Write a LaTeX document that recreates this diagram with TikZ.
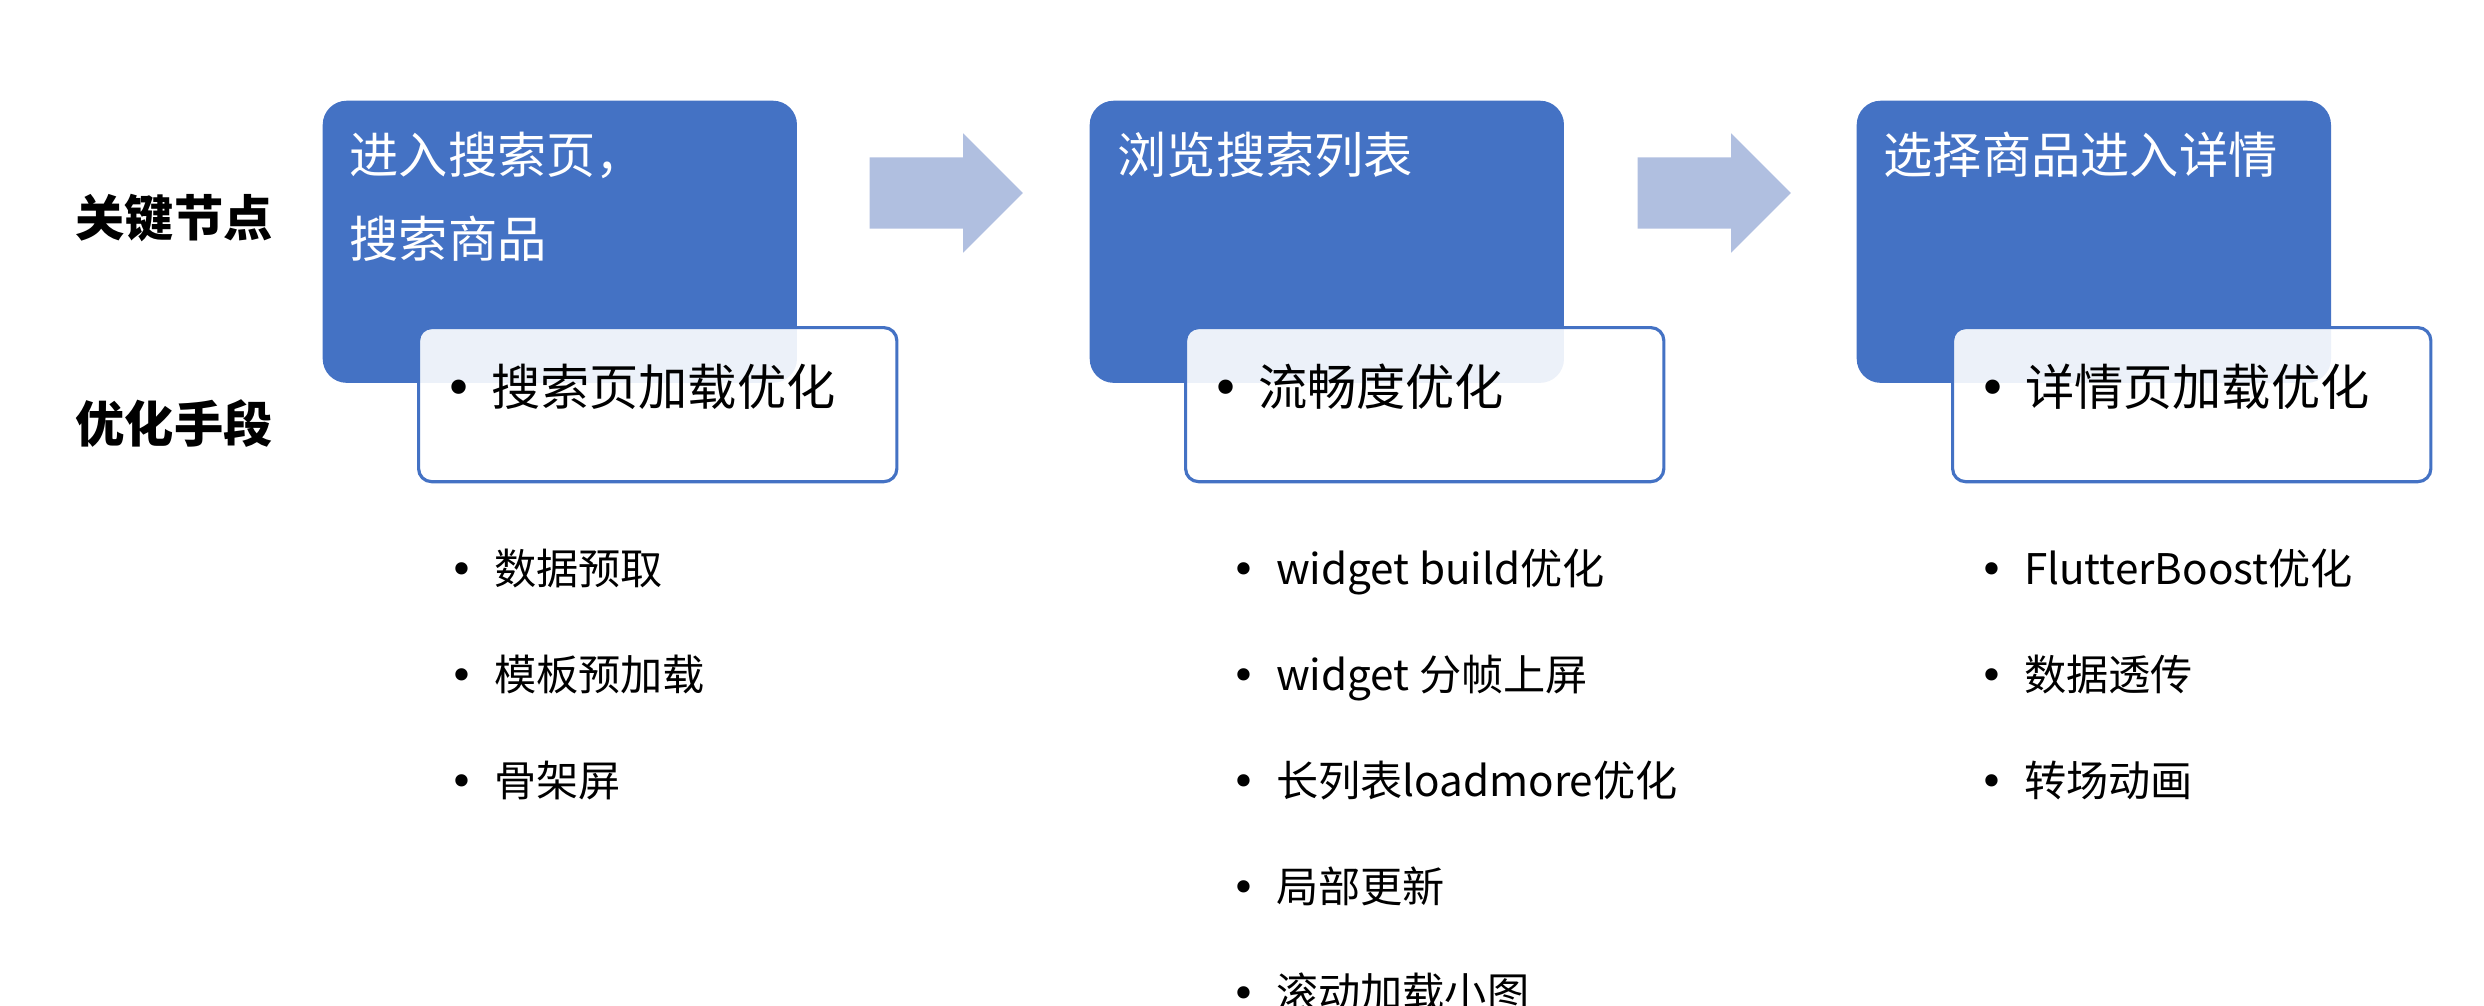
\documentclass[tikz,border=0pt]{standalone}
\usepackage{fontspec}
\setmainfont{Noto Sans CJK SC}
\newfontfamily\dotfont{DejaVu Sans}
\usetikzlibrary{positioning,shapes.arrows}

\definecolor{keyblue}{HTML}{4472C4}
\definecolor{flowblue}{HTML}{B0BFE0}

\tikzset{
  keybox/.style={fill=keyblue, rounded corners=0.24cm, minimum width=4.74cm,
    minimum height=2.82cm, inner sep=0, anchor=north west},
  keytext/.style={text=white, anchor=base west, inner sep=0,
    font=\fontsize{14}{16}\selectfont},
  waybox/.style={draw=keyblue, line width=0.9pt, fill=white, fill opacity=0.9,
    rounded corners=0.13cm, minimum width=4.78cm, minimum height=1.54cm,
    inner sep=0, anchor=north west},
  waytext/.style={anchor=base west, inner sep=0, font=\fontsize{14}{16}\selectfont},
  rowlabel/.style={anchor=base west, inner sep=0, font=\fontsize{14}{16}\selectfont\bfseries},
  listitem/.style={anchor=base west, inner sep=0, font=\fontsize{12}{14}\selectfont},
  flowarrow/.style={single arrow, fill=flowblue, minimum height=1.53cm,
    inner xsep=0, inner ysep=0.35cm, single arrow head extend=0.24cm, anchor=tail}
}
\newcommand{\dotitem}{\makebox[18pt][c]{\dotfont •}}

\begin{document}
\begin{tikzpicture}[x=0.01cm,y=-0.01cm]
  \useasboundingbox (0,0) rectangle (2484,1006);

  % row labels
  \node[rowlabel] (keyrow) at (75,236) {关键节点};
  \node[rowlabel] (wayrow) at (75,442) {优化手段};

  % key steps
  \node[keybox] (key1) at (322,100) {};
  \node[keytext] (key1a) at (349,173) {进入搜索页，};
  \node[keytext] (key1b) at (349,257) {搜索商品};
  \node[keybox] (key2) at (1089,100) {};
  \node[keytext] (key2a) at (1117,173) {浏览搜索列表};
  \node[keybox] (key3) at (1856,100) {};
  \node[keytext] (key3a) at (1883,173) {选择商品进入详情};

  \node[flowarrow] (flow1) at (869,193) {};
  \node[flowarrow] (flow2) at (1637,193) {};

  % ways
  \node[waybox] (way1) at (417,326) {};
  \node[waytext] (way1a) at (427,405) {\dotitem 搜索页加载优化};
  \node[waybox] (way2) at (1184,326) {};
  \node[waytext] (way2a) at (1194,405) {\dotitem 流畅度优化};
  \node[waybox] (way3) at (1951,326) {};
  \node[waytext] (way3a) at (1961,405) {\dotitem 详情页加载优化};

  % details
  \node[listitem] (search1) at (430,584) {\dotitem 数据预取};
  \node[listitem] (search2) at (430,690) {\dotitem 模板预加载};
  \node[listitem] (search3) at (430,796) {\dotitem 骨架屏};

  \node[listitem] (smooth1) at (1212,584) {\dotitem widget build优化};
  \node[listitem] (smooth2) at (1212,690) {\dotitem widget 分帧上屏};
  \node[listitem] (smooth3) at (1212,796) {\dotitem 长列表loadmore优化};
  \node[listitem] (smooth4) at (1212,902) {\dotitem 局部更新};
  \node[listitem] (smooth5) at (1212,1008) {\dotitem 滚动加载小图};

  \node[listitem] (detail1) at (1960,584) {\dotitem FlutterBoost优化};
  \node[listitem] (detail2) at (1960,690) {\dotitem 数据透传};
  \node[listitem] (detail3) at (1960,796) {\dotitem 转场动画};
\end{tikzpicture}
\end{document}
